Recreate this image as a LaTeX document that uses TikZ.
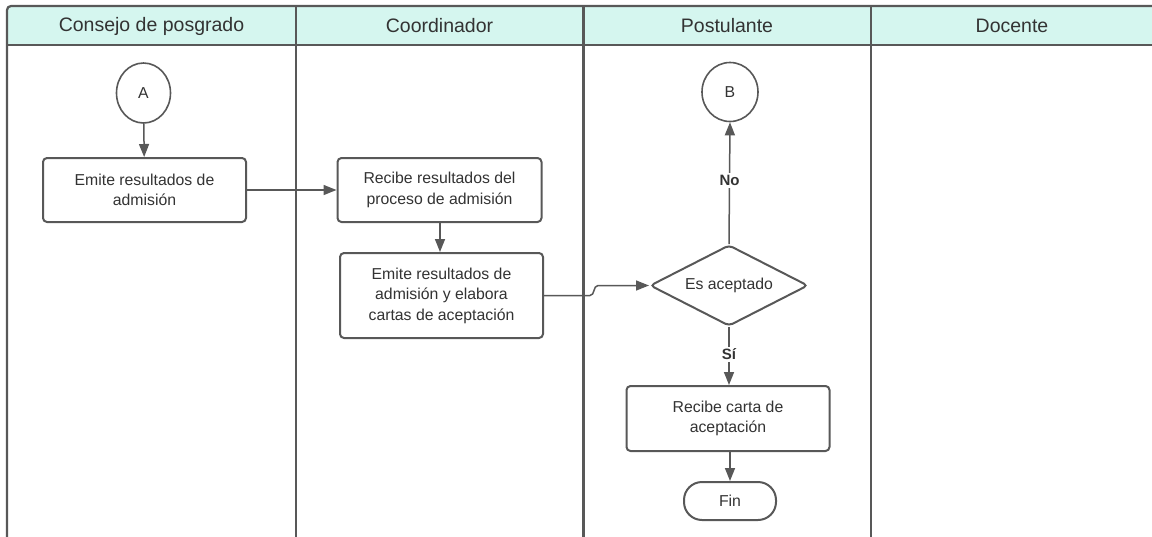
\documentclass[tikz,border=0pt]{standalone}
\usepackage{fontspec}
\setmainfont{Liberation Sans}
\usetikzlibrary{shapes.geometric,arrows.meta}
\definecolor{lanefill}{RGB}{213,246,239}
\definecolor{lineg}{RGB}{88,88,88}
\definecolor{txtg}{RGB}{51,51,51}
\tikzset{
  frameline/.style={draw=lineg,line width=2.2pt},
  procbox/.style={draw=lineg,line width=2pt,rounded corners=4pt,fill=white,text=txtg,
    align=center,inner sep=0pt,font=\fontsize{15.8}{20.5}\selectfont},
  conn/.style={draw=lineg,line width=1.6pt,fill=white,text=txtg,inner sep=0pt,
    font=\fontsize{15.8}{20}\selectfont},
  arr/.style={draw=lineg,line width=1.5pt,-{Triangle[length=13pt,width=10pt]}},
  lanetitle/.style={text=txtg,font=\fontsize{19.5}{22}\selectfont},
  edgelbl/.style={text=txtg,fill=white,inner sep=2pt,font=\bfseries\fontsize{15}{18}\selectfont}
}
\begin{document}
\begin{tikzpicture}[x=1pt,y=-1pt]
\useasboundingbox (0,0) rectangle (1152,536);
% header band
\fill[lanefill] (7,6) rectangle (1160,45);
\draw[frameline] (7,540) -- (7,10) arc[start angle=180,end angle=270,radius=4] -- (1160,6);
\draw[frameline] (7,45) -- (1160,45);
\draw[frameline] (296,6) -- (296,540);
\draw[frameline] (583.5,6) -- (583.5,540);
\draw[frameline] (871,6) -- (871,540);
% lane titles
\node[lanetitle] (t1) at (151.5,26) {Consejo de posgrado};
\node[lanetitle] (t2) at (439.5,26) {Coordinador};
\node[lanetitle] (t3) at (727,26) {Postulante};
\node[lanetitle] (t4) at (1012,26) {Docente};
% nodes
\node[conn,ellipse,minimum width=54pt,minimum height=60pt] (A) at (143.5,93) {A};
\node[procbox,minimum width=203pt,minimum height=64pt] (e1) at (144.5,190) {Emite resultados de\\admisión};
\node[procbox,minimum width=204pt,minimum height=64pt] (r1) at (439.5,190) {Recibe resultados del\\proceso de admisión};
\node[procbox,minimum width=203pt,minimum height=85pt] (e2) at (441.5,295.5) {Emite resultados de\\admisión y elabora\\cartas de aceptación};
\node[conn,ellipse,minimum width=56pt,minimum height=59pt] (B) at (730,92) {B};
\node[procbox,diamond,aspect=2,minimum width=158pt,minimum height=81pt] (d) at (729,285.5) {Es aceptado};
\node[procbox,minimum width=203pt,minimum height=65pt] (r2) at (728,418.5) {Recibe carta de\\aceptación};
\node[procbox,rounded corners=18pt,minimum width=92pt,minimum height=38pt] (fin) at (730,501) {Fin};
% connectors
\draw[arr] (A) -- (e1);
\draw[arr] (e1.east) -- (r1.west);
\draw[arr] (r1.south -| e2.north) ++(-1.5,0) coordinate (r1s) (r1s) -- (r1s |- e2.north);
\coordinate (h1) at (590,295.5);
\coordinate (h2) at (598,285.5);
\draw[arr] (e2.east) -- (h1) .. controls (595,295.5) and (593,285.5) .. (h2) -- (d.west);
\draw[arr] (d.north) -- node[edgelbl,pos=0.52] (no) {No} (B.south);
\draw[arr] (d.south) -- node[edgelbl,pos=0.47] (si) {Sí} (d.south |- r2.north);
\draw[arr] (r2.south -| fin.north) -- (fin.north);
\end{tikzpicture}
\end{document}
